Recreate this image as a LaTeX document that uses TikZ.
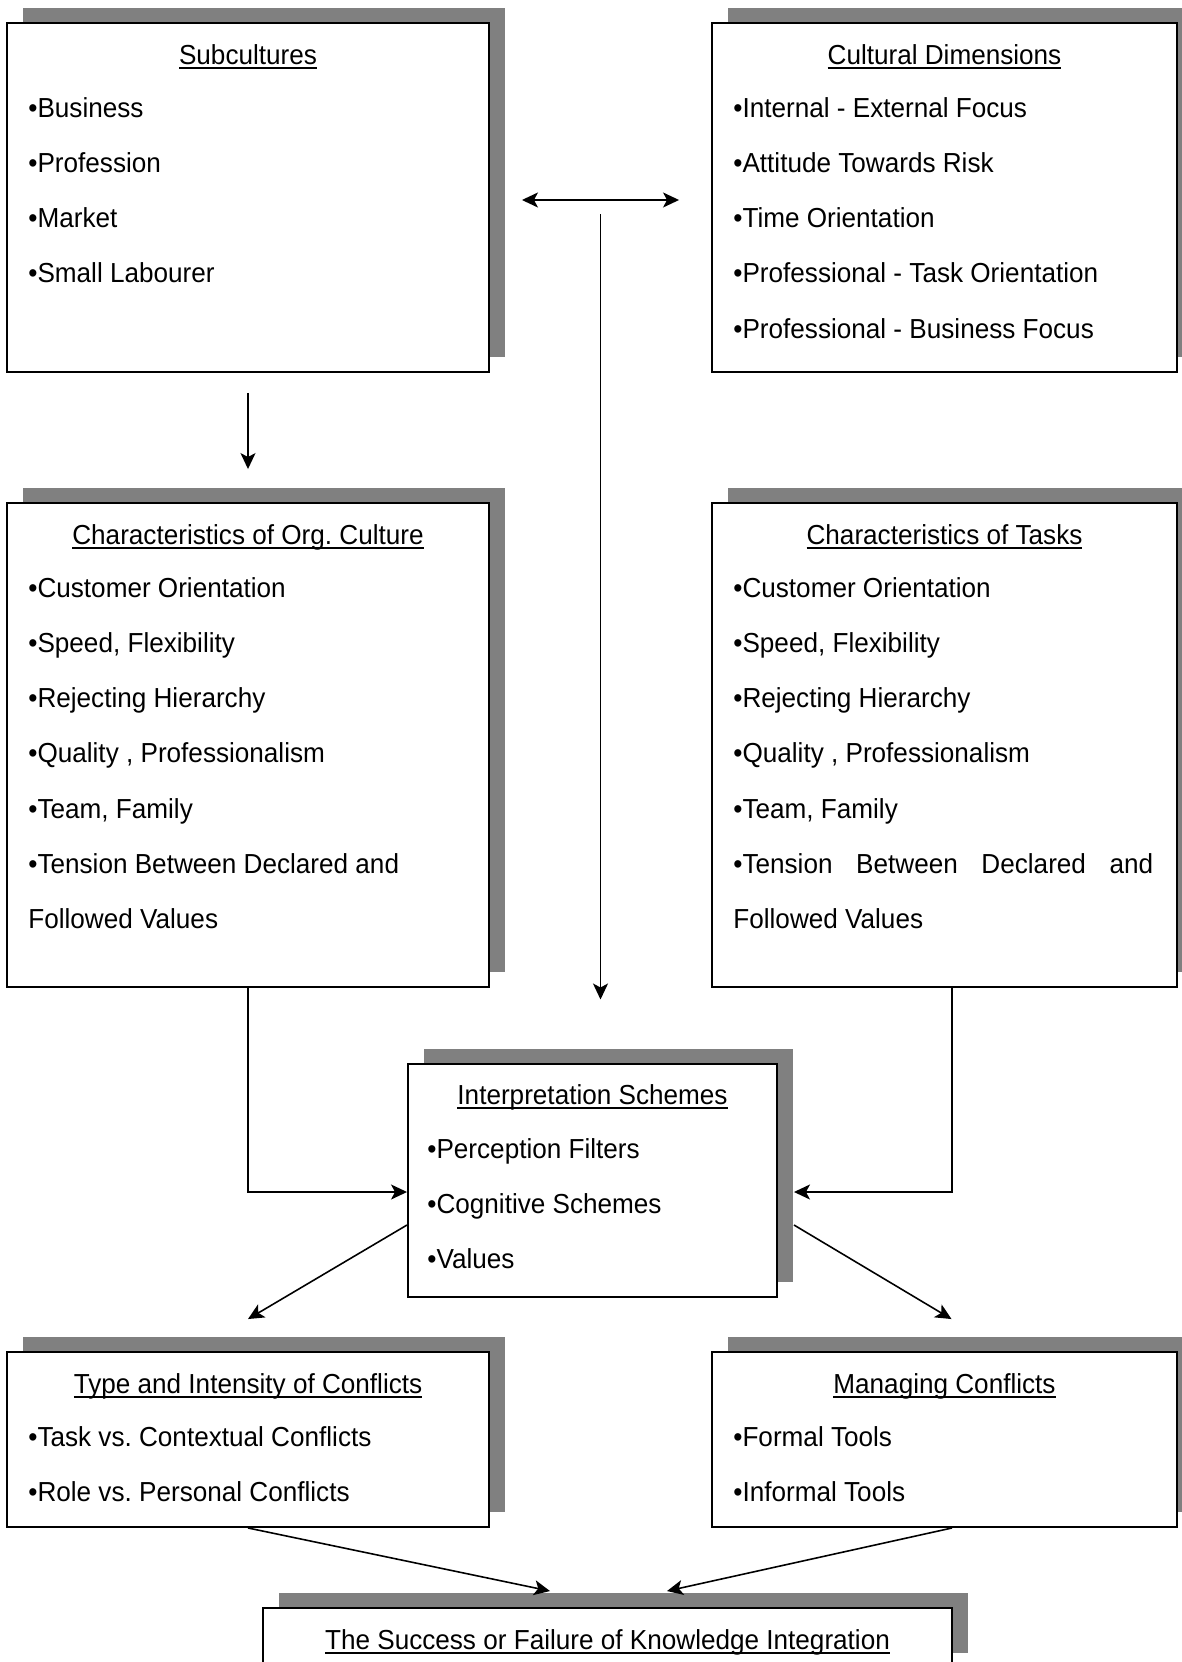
\documentclass[tikz,border=0pt]{standalone}
\usepackage{fontspec}
\setmainfont[FakeStretch=0.95]{Liberation Sans}
\usetikzlibrary{arrows.meta,calc,fit,shadows}
\definecolor{shadegray}{RGB}{128,128,128}
\newcommand{\ulhead}[1]{\setbox0=\hbox{#1}\rlap{\rule[-2.7pt]{\wd0}{1.1pt}}\box0}
\frenchspacing
\tikzset{
  box/.style={draw, line width=1.1pt, fill=white, inner sep=0pt,
    drop shadow={shadow xshift=0.32cm, shadow yshift=0.3cm, opacity=1, fill=shadegray}},
  head/.style={anchor=base, inner sep=0pt},
  item/.style={anchor=base west, inner sep=0pt},
  arr/.style={line width=0.9pt, -{Stealth[length=0.32cm, width=0.3cm, inset=0.08cm]}},
  dblarr/.style={line width=0.9pt, {Stealth[length=0.32cm, width=0.3cm, inset=0.08cm]}-{Stealth[length=0.32cm, width=0.3cm, inset=0.08cm]}}
}
\begin{document}
\begin{tikzpicture}[x=0.02cm, y=-0.02cm, font=\fontsize{15.65}{31.3}\selectfont]
\useasboundingbox (0,0) rectangle (1182,1662);
\clip (0,0) rectangle (1182,1662);

\node[box, fit={(7,23) (489,372)}] (sub) {};
\node[box, fit={(712,23) (1177,372)}] (dim) {};
\node[box, fit={(7,503) (489,987)}] (org) {};
\node[box, fit={(712,503) (1177,987)}] (task) {};
\node[box, fit={(408,1064) (777,1297)}] (interp) {};
\node[box, fit={(7,1352) (489,1527)}] (type) {};
\node[box, fit={(712,1352) (1177,1527)}] (manage) {};
\node[box, fit={(263,1608) (952,1668)}] (succ) {};

\node[head] (sub-h) at ($(sub.north)+(0,42)$) {\ulhead{Subcultures}};
\foreach \t [count=\i] in {•Business, •Profession, •Market, •Small Labourer}
  \node[item] (sub-\i) at ($(sub.north west)+(22,39.7+55.3*\i)$) {\t};

\node[head] (dim-h) at ($(dim.north)+(0,42)$) {\ulhead{Cultural Dimensions}};
\foreach \t [count=\i] in {•Internal - External Focus, •Attitude Towards Risk, •Time Orientation,
    •Professional - Task Orientation, •Professional - Business Focus}
  \node[item] (dim-\i) at ($(dim.north west)+(22,39.7+55.3*\i)$) {\t};

\node[head] (org-h) at ($(org.north)+(0,42)$) {\ulhead{Characteristics of Org. Culture}};
\foreach \t [count=\i] in {•Customer Orientation, {•Speed, Flexibility}, •Rejecting Hierarchy,
    {•Quality , Professionalism}, {•Team, Family}, •Tension Between Declared and, Followed Values}
  \node[item] (org-\i) at ($(org.north west)+(22,39.7+55.3*\i)$) {\t};

\node[head] (task-h) at ($(task.north)+(0,42)$) {\ulhead{Characteristics of Tasks}};
\foreach \t [count=\i] in {•Customer Orientation, {•Speed, Flexibility}, •Rejecting Hierarchy,
    {•Quality , Professionalism}, {•Team, Family},
    {\makebox[8.4cm][s]{•Tension Between Declared and}}, Followed Values}
  \node[item] (task-\i) at ($(task.north west)+(22,39.7+55.3*\i)$) {\t};

\node[head] (interp-h) at ($(interp.north)+(0,41)$) {\ulhead{Interpretation Schemes}};
\foreach \t [count=\i] in {•Perception Filters, •Cognitive Schemes, •Values}
  \node[item] (interp-\i) at ($(interp.north west)+(20,39.7+55.3*\i)$) {\t};

\node[head] (type-h) at ($(type.north)+(0,42)$) {\ulhead{Type and Intensity of Conflicts}};
\foreach \t [count=\i] in {•Task vs. Contextual Conflicts, •Role vs. Personal Conflicts}
  \node[item] (type-\i) at ($(type.north west)+(22,39.7+55.3*\i)$) {\t};

\node[head] (manage-h) at ($(manage.north)+(0,42)$) {\ulhead{Managing Conflicts}};
\foreach \t [count=\i] in {•Formal Tools, •Informal Tools}
  \node[item] (manage-\i) at ($(manage.north west)+(22,39.7+55.3*\i)$) {\t};

\node[head] (succ-h) at ($(succ.north)+(0,42)$) {\ulhead{The Success or Failure of Knowledge Integration}};

\coordinate (midtop) at ($(sub.east)!0.5!(dim.west)+(0,17)$);
\coordinate (midbot) at ($(midtop)+(0,785)$);

\draw[dblarr, shorten <=0.64cm, shorten >=0.64cm] ([yshift=-0.05cm]sub.east) -- ([yshift=-0.05cm]dim.west);
\draw[arr] (midtop) -- (midbot);
\draw[arr, shorten <=0.4cm, shorten >=0.66cm] (sub.south) -- (org.north);
\draw[arr] (org.south) |- ([yshift=-0.23cm]interp.west);
\draw[arr] ([xshift=0.15cm]task.south) |- ([xshift=0.32cm, yshift=-0.23cm]interp.east);
\draw[arr] ([yshift=-0.89cm]interp.west) -- ([yshift=0.64cm]type.north);
\draw[arr] ([xshift=0.32cm, yshift=-0.89cm]interp.east) -- ([xshift=0.14cm, yshift=0.64cm]manage.north);
\draw[arr] (type.south) -- ([xshift=-1.15cm, yshift=0.32cm]succ.north);
\draw[arr] ([xshift=0.15cm]manage.south) -- ([xshift=1.19cm, yshift=0.32cm]succ.north);
\end{tikzpicture}
\end{document}
